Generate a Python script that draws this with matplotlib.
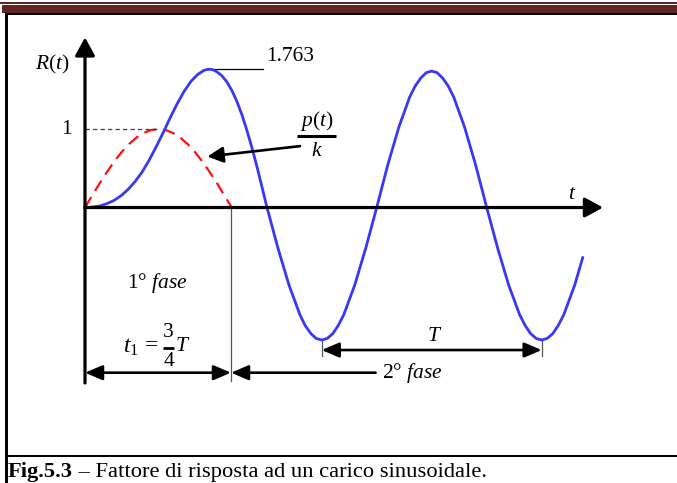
import matplotlib
matplotlib.use("Agg")
import matplotlib.pyplot as plt
from matplotlib.patches import Rectangle

# Response factor R(t) of the oscillator (forced phase, then free vibration)
t_resp = [0.00, 0.07, 0.15, 0.22, 0.29, 0.36, 0.43, 0.50, 0.57, 0.64, 0.71, 0.78,
          0.85, 0.92, 0.99, 1.06, 1.13, 1.19, 1.22, 1.25, 1.28, 1.32, 1.37, 1.42,
          1.47, 1.52, 1.57, 1.62, 1.67, 1.72, 1.77, 1.82,
          1.93, 2.04, 2.15, 2.202, 2.26, 2.312, 2.367, 2.422, 2.477, 2.532, 2.587,
          2.697, 2.807, 2.917,
          3.027, 3.137, 3.247, 3.302, 3.357, 3.412, 3.467, 3.522, 3.577, 3.632, 3.687,
          3.797, 3.907, 4.017,
          4.127, 4.237, 4.347, 4.402, 4.457, 4.512, 4.567, 4.622, 4.677, 4.732, 4.787,
          4.897, 4.977]
r_resp = [0.00, 0.005, 0.02, 0.05, 0.09, 0.15, 0.23, 0.33, 0.45, 0.60, 0.77, 0.95,
          1.14, 1.32, 1.48, 1.61, 1.70, 1.75, 1.76, 1.763, 1.757, 1.73, 1.68, 1.60,
          1.49, 1.35, 1.18, 0.98, 0.76, 0.52, 0.26, 0.00,
          -0.52, -0.99, -1.37, -1.506, -1.61, -1.67, -1.69, -1.67, -1.61, -1.506, -1.37,
          -0.99, -0.52, 0.00,
          0.54, 1.02, 1.41, 1.55, 1.65, 1.72, 1.74, 1.72, 1.65, 1.55, 1.41,
          1.02, 0.54, 0.00,
          -0.52, -0.99, -1.37, -1.506, -1.61, -1.67, -1.69, -1.67, -1.61, -1.506, -1.37,
          -0.99, -0.64]

# Sinusoidal load p(t)/k acting during the first phase
t_load = [0.0, 0.073, 0.147, 0.22, 0.293, 0.366, 0.44, 0.513, 0.586, 0.66, 0.733,
          0.806, 0.88, 0.953, 1.026, 1.10, 1.173, 1.246, 1.32, 1.393, 1.467]
p_load = [0.0, 0.156, 0.309, 0.454, 0.588, 0.707, 0.809, 0.891, 0.951, 0.988, 1.0,
          0.988, 0.951, 0.891, 0.809, 0.707, 0.588, 0.454, 0.309, 0.156, 0.0]

r_peak = 1.763
t_peak = 1.25
t1 = 1.46
t_min_a, t_min_b = 2.367, 4.567
r_min = -1.69

caption_bold = 'Fig.5.3'
caption_rest = ' – Fattore di risposta ad un carico sinusoidale.'

plt.rcParams['mathtext.fontset'] = 'custom'
plt.rcParams['mathtext.rm'] = 'Liberation Serif'
plt.rcParams['mathtext.it'] = 'Liberation Serif:italic'
plt.rcParams['mathtext.bf'] = 'Liberation Serif:bold'
plt.rcParams['font.family'] = ['Liberation Serif', 'DejaVu Serif']

W, H = 677, 483
fig = plt.figure(figsize=(W / 100, H / 100), dpi=100)
fig.patch.set_facecolor('white')
ax = fig.add_axes([0, 0, 1, 1])
ax.set_xlim(-0.85, 5.92)
ax.set_ylim(-3.514, 2.647)
ax.axis('off')


def frame_rect(x0, y0, x1, y1, color):
    fig.add_artist(Rectangle((x0 / W, 1 - y1 / H), (x1 - x0) / W, (y1 - y0) / H,
                             transform=fig.transFigure, facecolor=color,
                             edgecolor='none', zorder=10))


# page frame: header rules, left border, caption rule
bar = '#622423'
frame_rect(0, 2.0, W, 3.6, bar)
frame_rect(2, 4.8, W, 12.8, bar)
frame_rect(5, 12.8, W, 15.0, 'black')
frame_rect(5, 13, 7.5, H, 'black')
frame_rect(5, 454.7, W, 456.9, 'black')

FS = 15.5
axis_kw = dict(arrowstyle='-|>,head_length=0.55,head_width=0.3', color='black',
               lw=2.3, shrinkA=0, shrinkB=0, mutation_scale=20)

# axes with arrowheads
ax.annotate('', xy=(0, 2.17), xytext=(0, -2.238), arrowprops=axis_kw, zorder=4)
ax.annotate('', xy=(5.18, 0), xytext=(0, 0), arrowprops=axis_kw, zorder=4)

# curves
ax.plot(t_load, p_load, color='#FF1010', lw=1.6, dashes=(5.5, 3.2), zorder=2,
        solid_capstyle='butt')
ax.plot(t_resp, r_resp, color='#3838F5', lw=2.0, zorder=3, solid_joinstyle='round')

# unit level of the load
ax.plot([0, t_load[10]], [1, 1], color='#444444', lw=0.9, dashes=(3.5, 2.5), zorder=2)
ax.text(-0.13, 1.0, '1', fontsize=FS, ha='right', va='center')
ax.text(-0.33, 1.82, r'$R(t)$', fontsize=FS, ha='center', va='center')
ax.text(4.87, 0.17, r'$t$', fontsize=FS, ha='center', va='center')

# peak value
ax.plot([t_peak, 1.78], [r_peak, r_peak], color='black', lw=0.9, zorder=2)
ax.text(1.81, 1.92, f'{r_peak:.3f}', fontsize=FS, ha='left', va='center')

# load label p(t)/k written as a stacked fraction, with pointer
ax.text(2.315, 1.10, r'$p(t)$', fontsize=FS, ha='center', va='center')
ax.plot([2.12, 2.51], [0.912, 0.912], color='black', lw=2.2, solid_capstyle='butt')
ax.text(2.315, 0.72, r'$k$', fontsize=FS, ha='center', va='center')
ax.annotate('', xy=(1.223, 0.65), xytext=(2.15, 0.783),
            arrowprops=dict(arrowstyle='-|>,head_length=0.6,head_width=0.3',
                            color='black', lw=1.9, shrinkA=0, shrinkB=0,
                            mutation_scale=16), zorder=4)

# end of the first phase
ax.plot([t1, t1], [0, -2.213], color='#555555', lw=0.9, zorder=2)
ax.text(0.72, -0.963, r'1° $fase$', fontsize=FS, ha='center', va='center')

# t1 = 3/4 T as a stacked fraction
ax.text(0.74, -1.786, r'$t_1\,=\,$', fontsize=FS + 1.5, ha='right', va='center')
ax.text(0.835, -1.60, '3', fontsize=FS, ha='center', va='center')
ax.plot([0.78, 0.89], [-1.786, -1.786], color='black', lw=2.0, solid_capstyle='butt')
ax.text(0.835, -1.96, '4', fontsize=FS, ha='center', va='center')
ax.text(0.90, -1.767, r'$T$', fontsize=FS, ha='left', va='center')

dim_kw = dict(color='black', lw=1.9, shrinkA=0, shrinkB=0, mutation_scale=14)
ax.annotate('', xy=(0, -2.107), xytext=(t1, -2.107),
            arrowprops=dict(arrowstyle='<|-|>,head_length=0.75,head_width=0.32', **dim_kw),
            zorder=4)
ax.annotate('', xy=(t1, -2.107), xytext=(2.906, -2.107),
            arrowprops=dict(arrowstyle='-|>,head_length=0.75,head_width=0.32', **dim_kw),
            zorder=4)
ax.text(2.97, -2.11, r'2° $fase$', fontsize=FS, ha='left', va='center')

# period between two minima
for tm in (t_min_a, t_min_b):
    ax.plot([tm, tm], [r_min, -1.894], color='#555555', lw=0.9, zorder=2)
ax.annotate('', xy=(t_min_a, -1.818), xytext=(t_min_b, -1.818),
            arrowprops=dict(arrowstyle='<|-|>,head_length=0.75,head_width=0.32', **dim_kw),
            zorder=4)
ax.text(3.5, -1.64, r'$T$', fontsize=FS, ha='center', va='center')

# caption: bold figure number followed by the regular text
cap_y = 1 - 477.5 / H
tb = fig.text(8 / W, cap_y, caption_bold, fontsize=16.2, fontweight='bold',
              ha='left', va='baseline', zorder=11)
fig.canvas.draw()
bb = tb.get_window_extent()
fig.text(bb.x1 / W, cap_y, caption_rest, fontsize=16.2, ha='left', va='baseline',
         zorder=11)

fig.savefig('out.png', dpi=100, facecolor='white')
